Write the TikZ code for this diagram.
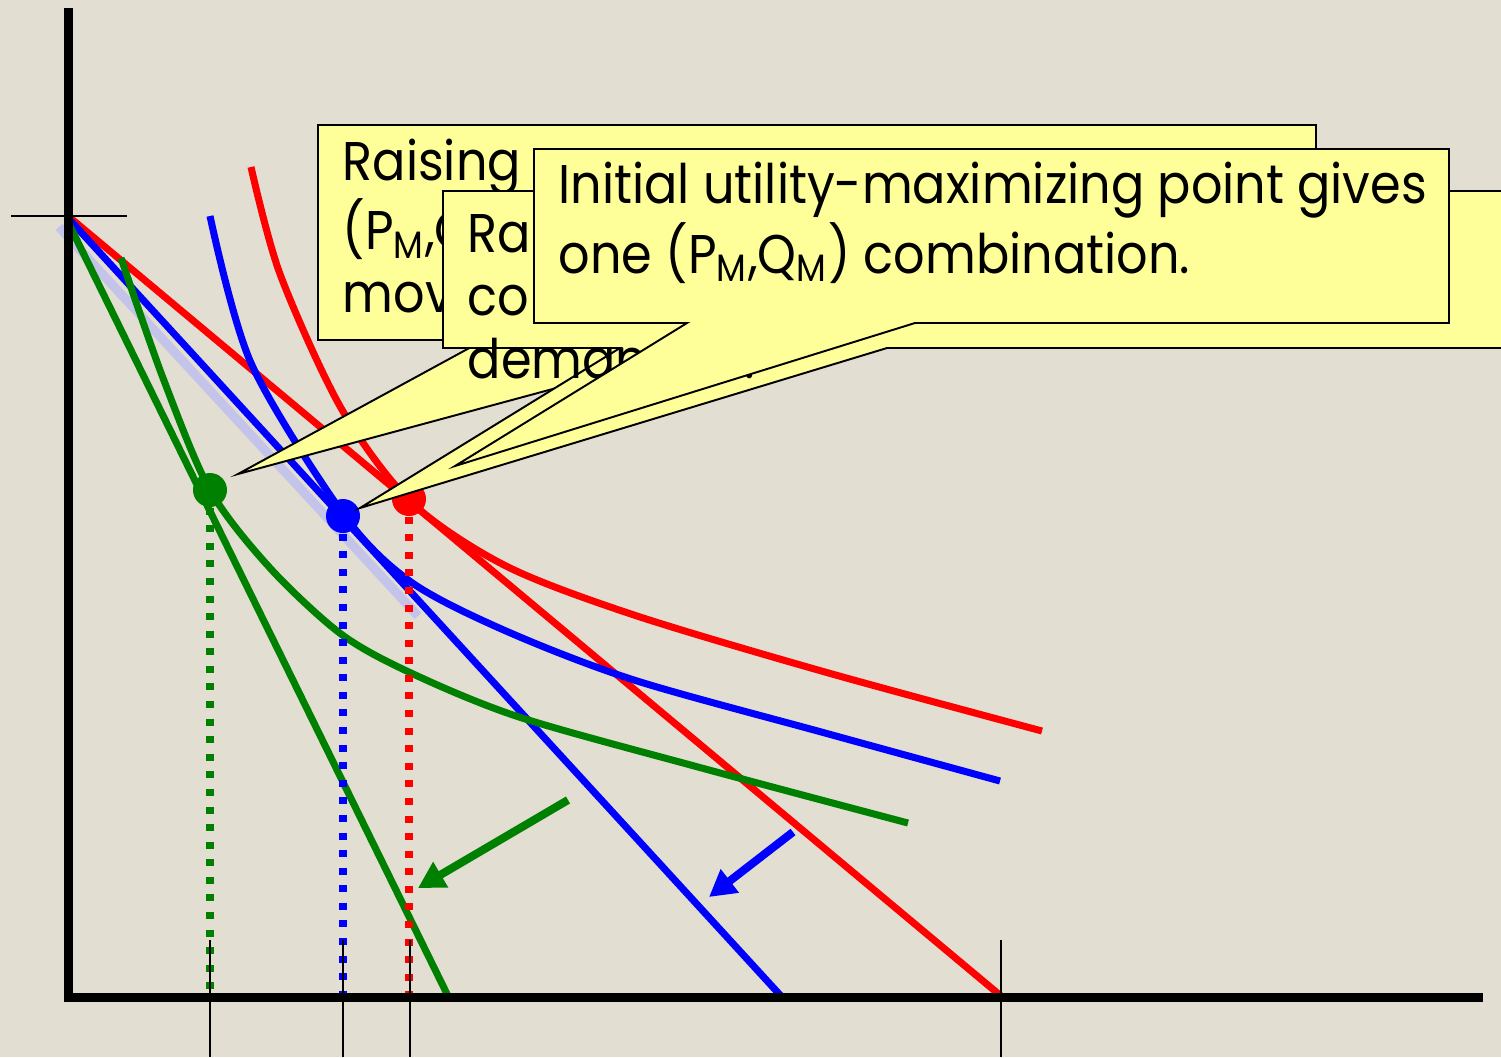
\documentclass[tikz,border=0pt]{standalone}
\usepackage{fontspec}
\setmainfont{Poppins}
\newfontfamily\notefont[FakeStretch=0.905]{Poppins}
\usetikzlibrary{arrows.meta}
\definecolor{paper}{RGB}{227,222,210}
\definecolor{noteyellow}{RGB}{255,255,153}
\definecolor{icgreen}{RGB}{0,128,0}
\definecolor{haze}{RGB}{196,196,234}

\begin{document}
\begin{tikzpicture}[
  x=0.01cm, y=-0.01cm,
  every node/.style={inner sep=0pt},
  budget/.style={line width=2pt},
  icurve/.style={line width=2pt},
  drop/.style={line width=2.3pt, dash pattern=on 2pt off 3pt},
  tickmark/.style={line width=0.5pt},
  callout/.style={draw, line width=0.55pt, fill=noteyellow, line join=miter},
  note/.style={font=\notefont\fontsize{15.5}{17.8}\selectfont, anchor=base west, align=left},
  eqdot/.style={circle, minimum size=0.34cm},
  pivot/.style={line width=2.3pt, -{Triangle[length=7.5pt, width=8pt]}}
]
\fill[paper] (0,0) rectangle (1501,1057);
\clip (0,0) rectangle (1501,1057);

% budget lines
\draw[haze, line width=2.6pt] (59,227) -- (418,616);
\draw[budget, red] (68,216) -- (1001,996);
\draw[budget, blue] (68,218) -- (781,996);
\draw[budget, icgreen] (68,222) -- (448,996);

% indifference curves
\draw[icurve, red] plot[smooth] coordinates {(251,167) (280,274) (341,408) (411,502) (506,566) (634,615) (825,672) (1042,731)};
\draw[icurve, blue] plot[smooth] coordinates {(210,216) (251,363) (344,515) (411,582) (506,631) (634,680) (825,733) (1000,781)};
\draw[icurve, icgreen] plot[smooth] coordinates {(121,258) (163,378) (210,490) (270,568) (341,634) (411,673) (519,717) (698,767) (908,823)};

% quantities demanded
\coordinate (pG) at (210,490);
\coordinate (pB) at (343,516);
\coordinate (pR) at (409,499);
\coordinate (floor) at (0,996);
\draw[drop, icgreen] (pG) -- (pG |- floor);
\draw[drop, blue] (pB) -- (pB |- floor);
\draw[drop, red] (pR) -- (pR |- floor);
\node[eqdot, fill=icgreen] (eqG) at (pG) {};
\node[eqdot, fill=blue] (eqB) at (pB) {};
\node[eqdot, fill=red] (eqR) at (pR) {};

% rotation arrows
\coordinate (gA) at (568,800); \coordinate (gB) at (418,888);
\coordinate (bA) at (793,832); \coordinate (bB) at (709,897);
\draw[pivot, icgreen] (gA) -- (gB);
\draw[pivot, blue] (bA) -- (bB);

% axes and ticks
\draw[tickmark] (11,216) -- (127,216);
\foreach \q in {210,343,410,1001} {\draw[tickmark] (\q,940) -- (\q,1057);}
\draw[line width=2.6pt, line join=miter] (68.5,8) -- (68.5,997.5) -- (1483,997.5);

% callouts
\coordinate (tipA) at (238,474);
\coordinate (tipB) at (360,508);
\coordinate (tipC) at (455,466);
\draw[callout] (318,125) -- (1316,125) -- (1316,340) -- (734,340) -- (tipA) -- (484,340) -- (318,340) -- cycle;
\node[note] (txtA) at (342,312) {Raising\\(P\textsubscript{M},Q\textsubscript{M})\\moves};
\draw[callout] (443,191) -- (1512,191) -- (1512,348) -- (887,348) -- (tipB) -- (620,348) -- (443,348) -- cycle;
\node[note] (txtB) at (467,378) {Ra\\co\\demanded.};
\draw[callout] (534,149) -- (1449,149) -- (1449,323) -- (915,323) -- (tipC) -- (687,323) -- (534,323) -- cycle;
\node[note] (txtC) at (558,273) {Initial utility-maximizing point gives\\one (P\textsubscript{M},Q\textsubscript{M}) combination.};
\end{tikzpicture}
\end{document}
